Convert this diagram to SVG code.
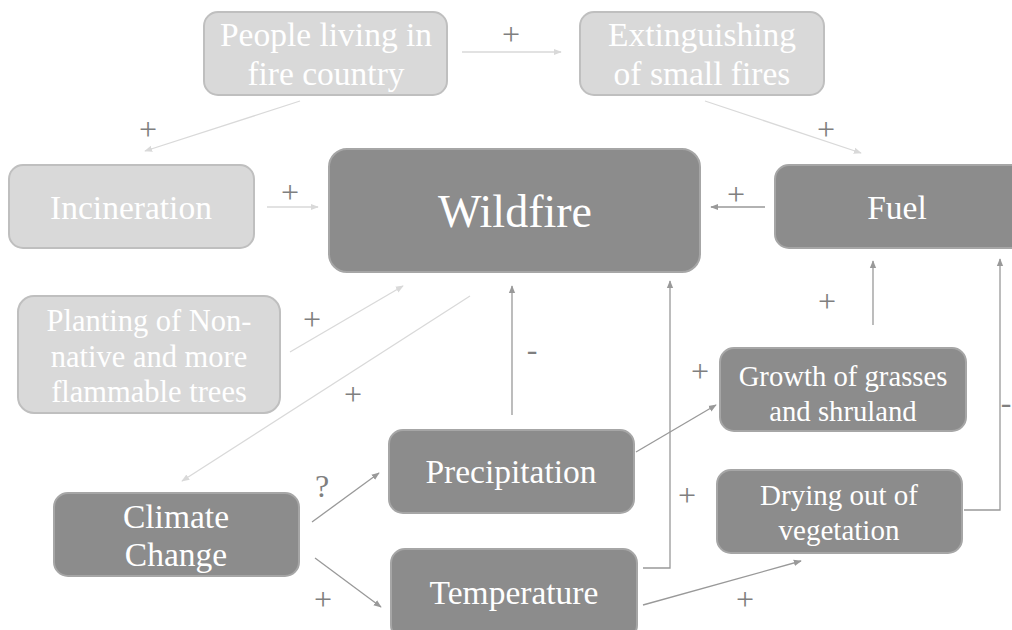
<svg xmlns="http://www.w3.org/2000/svg" width="1012" height="630" viewBox="0 0 1012 630">
<style>
.lt{fill:#d9d9d9;stroke:#bfbfbf;stroke-width:2}
.dk{fill:#8c8c8c;stroke:#a6a6a6;stroke-width:2}
text{font-family:"Liberation Serif","Times New Roman",serif;fill:#ffffff;text-anchor:middle}
.lbl{fill:#7f7f7f;font-size:32px}
.cl{stroke:#d9d9d9;stroke-width:1.3;fill:none;marker-end:url(#al)}
.cd{stroke:#999999;stroke-width:1.3;fill:none;marker-end:url(#ad)}
</style>
<defs>
<marker id="al" viewBox="0 0 10 10" refX="9" refY="5" markerWidth="8" markerHeight="8" orient="auto" markerUnits="userSpaceOnUse"><path d="M0,1 L10,5 L0,9 z" fill="#d9d9d9"/></marker>
<marker id="ad" viewBox="0 0 10 10" refX="9" refY="5" markerWidth="8" markerHeight="8" orient="auto" markerUnits="userSpaceOnUse"><path d="M0,1 L10,5 L0,9 z" fill="#999999"/></marker>
</defs>
<rect width="1012" height="630" fill="#ffffff"/>
<g id="connectors">
<line class="cl" x1="462" y1="52" x2="561" y2="52"/>
<line class="cl" x1="300" y1="101" x2="145" y2="151"/>
<line class="cl" x1="705" y1="101" x2="861" y2="153"/>
<line class="cl" x1="267" y1="207" x2="318" y2="207"/>
<line class="cd" x1="765" y1="207" x2="711" y2="207"/>
<line class="cl" x1="290" y1="352" x2="403" y2="286"/>
<line class="cl" x1="470" y1="296" x2="182" y2="481"/>
<line class="cd" x1="512" y1="415" x2="512" y2="286"/>
<line class="cd" x1="312" y1="522" x2="379" y2="473"/>
<line class="cd" x1="315" y1="558" x2="381" y2="607"/>
<polyline class="cd" points="643,568 670,568 670,281"/>
<line class="cd" x1="636" y1="452" x2="716" y2="405"/>
<line class="cd" x1="873" y1="325" x2="873" y2="261"/>
<polyline class="cd" points="964,510 1000,510 1000,259"/>
<line class="cd" x1="643" y1="605" x2="801" y2="561"/>
</g>
<g id="labels">
<text class="lbl" x="511" y="45">+</text>
<text class="lbl" x="148" y="140">+</text>
<text class="lbl" x="826" y="140">+</text>
<text class="lbl" x="290" y="203">+</text>
<text class="lbl" x="736" y="205">+</text>
<text class="lbl" x="312" y="330">+</text>
<text class="lbl" x="353" y="405">+</text>
<text class="lbl" x="532" y="360" font-size="28">-</text>
<text class="lbl" x="322" y="497" font-size="28">?</text>
<text class="lbl" x="323" y="610">+</text>
<text class="lbl" x="687" y="506">+</text>
<text class="lbl" x="700" y="382">+</text>
<text class="lbl" x="827" y="312">+</text>
<text class="lbl" x="1006" y="413" font-size="24">-</text>
<text class="lbl" x="745" y="610">+</text>
</g>
<g id="people">
<rect class="lt" x="204" y="12" width="243" height="83" rx="14"/>
<text x="326" y="46" font-size="33.5">People living in</text>
<text x="326" y="85" font-size="33.5">fire country</text>
</g>
<g id="extinguishing">
<rect class="lt" x="580" y="12" width="244" height="83" rx="14"/>
<text x="702" y="46" font-size="33.5">Extinguishing</text>
<text x="702" y="85" font-size="33.5">of small fires</text>
</g>
<g id="incineration">
<rect class="lt" x="9" y="165" width="245" height="83" rx="14"/>
<text x="131" y="219" font-size="33.5">Incineration</text>
</g>
<g id="wildfire">
<rect class="dk" x="329" y="149" width="371" height="123" rx="18"/>
<text x="515" y="227" font-size="46">Wildfire</text>
</g>
<g id="fuel">
<rect class="dk" x="775" y="165" width="250" height="83" rx="14"/>
<text x="897" y="219" font-size="33.5">Fuel</text>
</g>
<g id="planting">
<rect class="lt" x="18" y="296" width="262" height="117" rx="16"/>
<text x="149" y="331" font-size="30.5">Planting of Non-</text>
<text x="149" y="367" font-size="30.5">native and more</text>
<text x="149" y="402" font-size="30.5">flammable trees</text>
</g>
<g id="growth">
<rect class="dk" x="720" y="348" width="246" height="83" rx="14"/>
<text x="843" y="386" font-size="28.7">Growth of grasses</text>
<text x="843" y="421" font-size="28.7">and shruland</text>
</g>
<g id="climate">
<rect class="dk" x="54" y="493" width="245" height="83" rx="14"/>
<text x="176" y="528" font-size="33.5">Climate</text>
<text x="176" y="566" font-size="33.5">Change</text>
</g>
<g id="precipitation">
<rect class="dk" x="389" y="430" width="245" height="83" rx="14"/>
<text x="511" y="483" font-size="33.5">Precipitation</text>
</g>
<g id="temperature">
<rect class="dk" x="391" y="549" width="246" height="90" rx="14"/>
<text x="514" y="604" font-size="33.5">Temperature</text>
</g>
<g id="drying">
<rect class="dk" x="717" y="470" width="245" height="83" rx="14"/>
<text x="839" y="505" font-size="29">Drying out of</text>
<text x="839" y="540" font-size="29">vegetation</text>
</g>
</svg>
